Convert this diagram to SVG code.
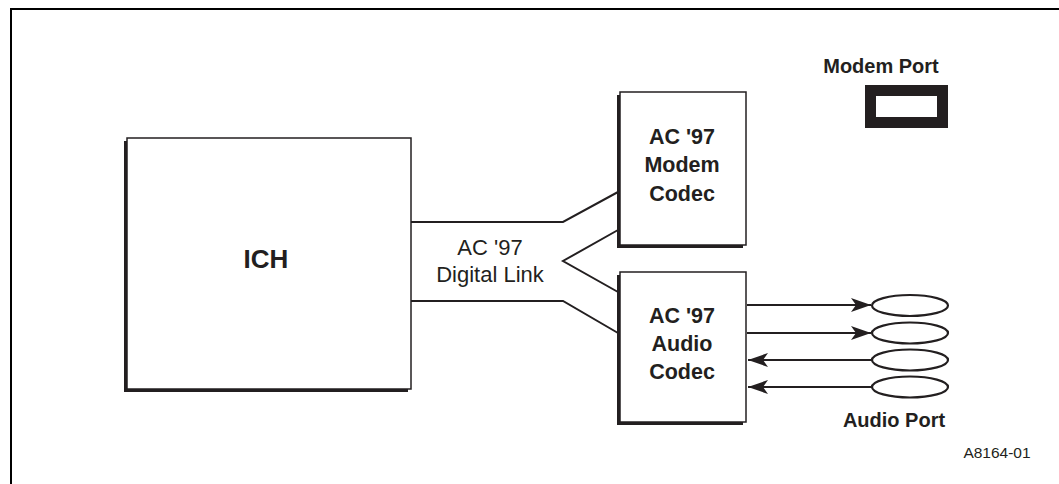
<svg xmlns="http://www.w3.org/2000/svg" width="1059" height="484" viewBox="0 0 1059 484">
<defs>
<style>
.t{font-family:"Liberation Sans",Arial,sans-serif;fill:#231f20;text-anchor:middle}
.b{font-weight:bold}
.box{fill:#fff;stroke:#231f20;stroke-width:1.5}
.sh{fill:#231f20}
.ln{fill:none;stroke:#231f20;stroke-width:2}
.port{fill:#fff;stroke:#231f20;stroke-width:2.2}
</style>
<marker id="ah" viewBox="0 0 20 14" refX="20" refY="7" markerWidth="20" markerHeight="14" markerUnits="userSpaceOnUse" orient="auto">
<path d="M0,0 L20,7 L0,14 L5,7 Z" fill="#231f20"/>
</marker>
</defs>
<rect width="1059" height="484" fill="#fff"/>
<path d="M11,484 V9 H1059" fill="none" stroke="#000" stroke-width="2"/>

<g id="connectors">
<path class="ln" d="M411,222 H563 L618,192"/>
<path class="ln" d="M618,230 L563,261 L618,292"/>
<path class="ln" d="M411,301 H563 L618,333"/>
<line class="ln" x1="747" y1="305" x2="871" y2="305" marker-end="url(#ah)"/>
<line class="ln" x1="747" y1="333" x2="871" y2="333" marker-end="url(#ah)"/>
<line class="ln" x1="872" y1="360" x2="748" y2="360" marker-end="url(#ah)"/>
<line class="ln" x1="872" y1="387" x2="748" y2="387" marker-end="url(#ah)"/>
<text class="t" x="490" y="255" font-size="22">AC '97</text>
<text class="t" x="490" y="282" font-size="22">Digital Link</text>
</g>

<g id="ich">
<rect class="sh" x="124" y="141" width="284" height="251"/>
<rect class="box" x="127" y="138" width="284" height="251"/>
<text class="t b" x="266" y="268" font-size="26">ICH</text>
</g>

<g id="modem-codec">
<rect class="sh" x="617" y="95" width="126" height="153"/>
<rect class="box" x="620" y="92" width="126" height="153"/>
<text class="t b" x="682" y="144" font-size="21.5">AC '97</text>
<text class="t b" x="682" y="172" font-size="21.5">Modem</text>
<text class="t b" x="682" y="201" font-size="21.5">Codec</text>
</g>

<g id="audio-codec">
<rect class="sh" x="617" y="275" width="126" height="150"/>
<rect class="box" x="620" y="272" width="126" height="150"/>
<text class="t b" x="682" y="323" font-size="21.5">AC '97</text>
<text class="t b" x="682" y="351" font-size="21.5">Audio</text>
<text class="t b" x="682" y="379" font-size="21.5">Codec</text>
</g>

<g id="modem-port">
<text class="t b" x="881" y="73" font-size="20">Modem Port</text>
<rect x="870.5" y="90.5" width="72" height="32" fill="#fff" stroke="#231f20" stroke-width="11"/>
</g>

<g id="audio-port">
<ellipse class="port" cx="910" cy="305.5" rx="38" ry="10.5"/>
<ellipse class="port" cx="910" cy="333" rx="38" ry="10.5"/>
<ellipse class="port" cx="910" cy="360" rx="38" ry="10.5"/>
<ellipse class="port" cx="910" cy="387" rx="38" ry="10.5"/>
<text class="t b" x="894" y="427" font-size="20">Audio Port</text>
</g>

<text class="t" x="997" y="458" font-size="15.5">A8164-01</text>
</svg>
